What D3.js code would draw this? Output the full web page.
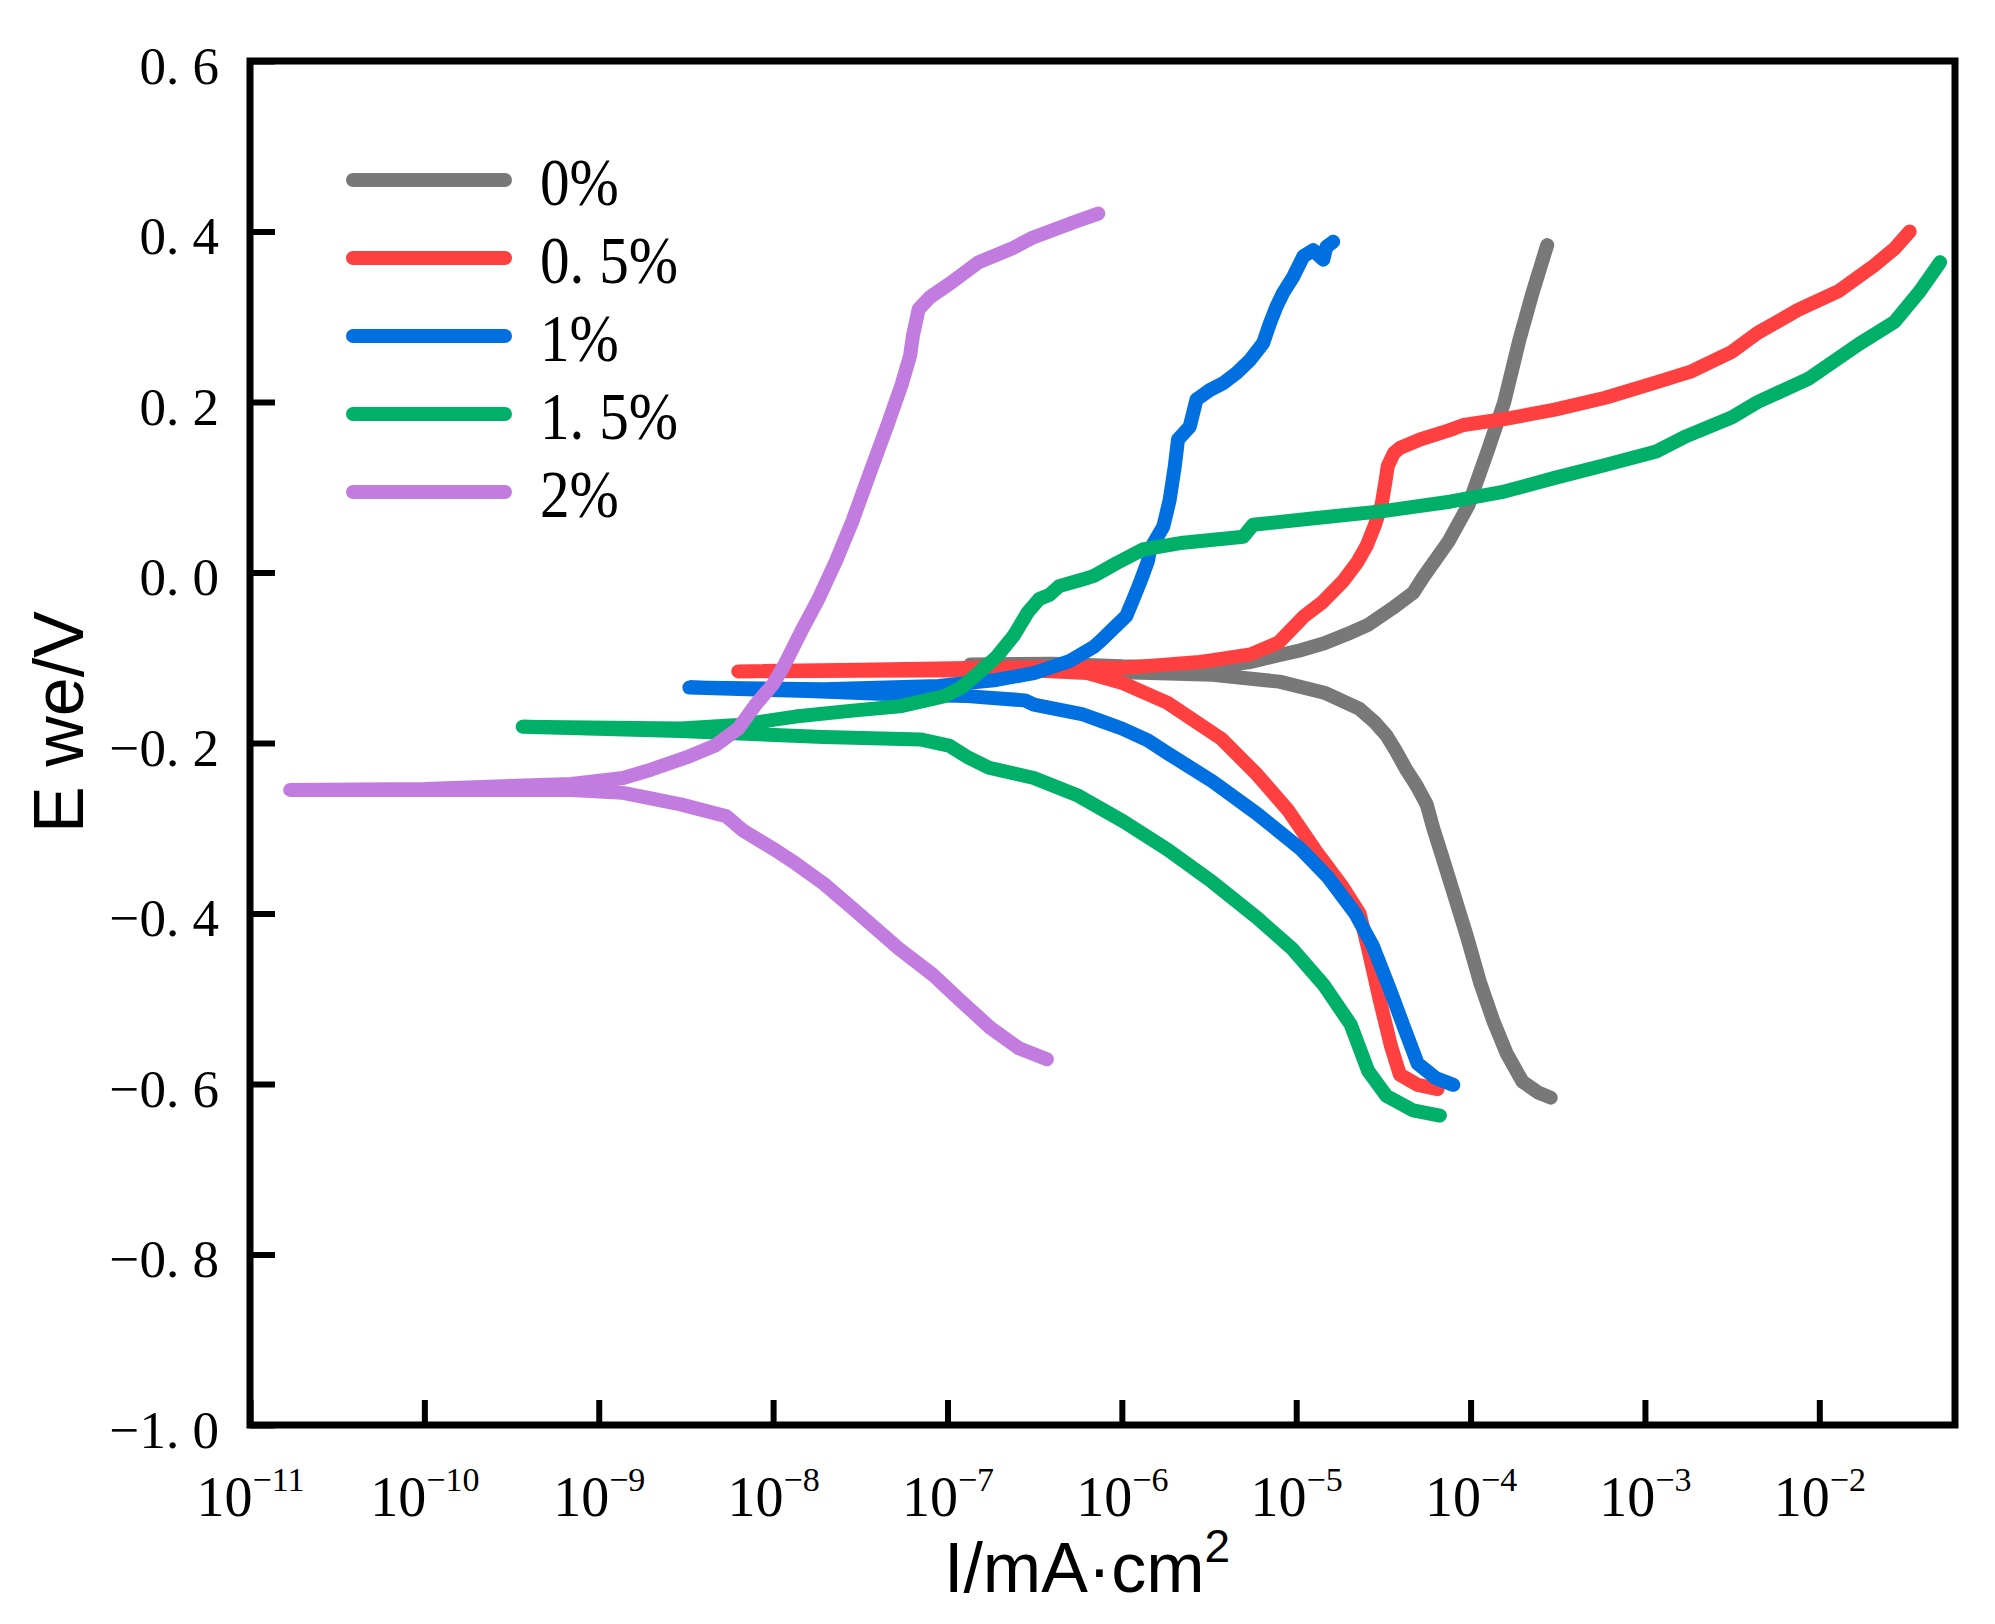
<!DOCTYPE html>
<html>
<head>
<meta charset="utf-8">
<script src="https://cdn.jsdelivr.net/npm/d3@7"></script>
<style>
  body { margin: 0; background: #fff; }
  svg { display: block; }
</style>
</head>
<body>
<svg id="chart" width="1995" height="1624"></svg>
<script>
// series names, in legend order
const seriesNames = ["0%", "0.5%", "1%", "1.5%", "2%"];
const seriesColors = ["#787878", "#FF4040", "#0070E0", "#00B068", "#C27CE0"];

// [I (mA/cm2), E (V)] from cathodic end -> Ecorr -> anodic end
const gray0 = [
  [2.88e-4, -0.616], [2.44e-4, -0.610], [1.98e-4, -0.597], [1.61e-4, -0.564], [1.35e-4, -0.526],
  [1.13e-4, -0.480], [9.5e-5, -0.426], [7.96e-5, -0.375], [6.87e-5, -0.333], [6.11e-5, -0.300],
  [5.6e-5, -0.272], [4.9e-5, -0.250], [4.3e-5, -0.232], [3.70e-5, -0.208], [3.29e-5, -0.191],
  [2.8e-5, -0.175], [2.31e-5, -0.160], [1.45e-5, -0.141], [8.0e-6, -0.128], [3.31e-6, -0.120],
  [1.02e-6, -0.117], [4.0e-7, -0.113], [1.35e-7, -0.108],
  [4.0e-7, -0.107], [1.0e-6, -0.110], [3.31e-6, -0.111], [5.47e-6, -0.105], [7.94e-6, -0.097],
  [1.07e-5, -0.091], [1.45e-5, -0.083], [2.08e-5, -0.070], [2.6e-5, -0.061], [3.56e-5, -0.042],
  [4.68e-5, -0.024], [5.33e-5, -0.006], [7.45e-5, 0.036], [9.73e-5, 0.079], [1.27e-4, 0.146],
  [1.56e-4, 0.200], [1.90e-4, 0.272], [2.25e-4, 0.326], [2.75e-4, 0.384]
];
const red05 = [
  [6.47e-5, -0.606], [4.97e-5, -0.601], [3.93e-5, -0.589], [3.49e-5, -0.555], [3.01e-5, -0.501],
  [2.59e-5, -0.442], [2.31e-5, -0.400], [1.82e-5, -0.367], [1.28e-5, -0.325], [8.99e-6, -0.279],
  [5.96e-6, -0.237], [3.72e-6, -0.195], [2.61e-6, -0.174], [1.83e-6, -0.153], [1.02e-6, -0.130],
  [6.34e-7, -0.118], [3.16e-7, -0.115], [6.3e-8, -0.115], [6.31e-9, -0.116],
  [3.16e-8, -0.114], [1.3e-7, -0.112], [5.0e-7, -0.111], [1.02e-6, -0.112], [2.8e-6, -0.105],
  [3.31e-6, -0.103], [5.47e-6, -0.096], [7.94e-6, -0.082], [1.1e-5, -0.052], [1.41e-5, -0.035],
  [1.86e-5, -0.010], [2.24e-5, 0.012], [2.53e-5, 0.031], [2.82e-5, 0.055], [3.09e-5, 0.080],
  [3.24e-5, 0.105], [3.35e-5, 0.125], [3.63e-5, 0.140], [3.93e-5, 0.146], [5.13e-5, 0.156],
  [7.59e-5, 0.167], [9.1e-5, 0.173], [1.56e-4, 0.180], [3.04e-4, 0.191], [5.93e-4, 0.205],
  [1.16e-3, 0.223], [1.85e-3, 0.236], [3.16e-3, 0.259], [4.43e-3, 0.281], [7.55e-3, 0.308],
  [1.29e-2, 0.330], [2.06e-2, 0.360], [2.7e-2, 0.380], [3.3e-2, 0.400]
];
const blue1 = [
  [7.96e-5, -0.601], [6.31e-5, -0.593], [4.97e-5, -0.576], [4.16e-5, -0.534], [3.49e-5, -0.492],
  [2.75e-5, -0.438], [2.18e-5, -0.400], [1.53e-5, -0.358], [1.07e-5, -0.325], [5.96e-6, -0.283],
  [3.31e-6, -0.245], [1.83e-6, -0.212], [1.41e-6, -0.197], [1.0e-6, -0.183], [7.57e-7, -0.174],
  [5.89e-7, -0.166], [3.13e-7, -0.155], [2.78e-7, -0.150], [1.3e-7, -0.145], [5.33e-8, -0.143],
  [1.58e-8, -0.139], [3.31e-9, -0.135],
  [1.95e-8, -0.137], [8.9e-8, -0.133], [1.91e-7, -0.126], [3.13e-7, -0.118], [5.0e-7, -0.104],
  [6.92e-7, -0.087], [7.57e-7, -0.080], [9.33e-7, -0.062], [1.06e-6, -0.051], [1.17e-6, -0.030],
  [1.27e-6, -0.012], [1.41e-6, 0.013], [1.45e-6, 0.027], [1.73e-6, 0.054], [1.88e-6, 0.085],
  [2.01e-6, 0.124], [2.10e-6, 0.156], [2.45e-6, 0.171], [2.68e-6, 0.203], [3.2e-6, 0.214],
  [3.81e-6, 0.222], [4.55e-6, 0.234], [5.42e-6, 0.249], [6.46e-6, 0.269], [7.06e-6, 0.292],
  [7.71e-6, 0.312], [8.41e-6, 0.328], [9.62e-6, 0.347], [1.1e-5, 0.371], [1.25e-5, 0.378],
  [1.43e-5, 0.367], [1.49e-5, 0.382], [1.63e-5, 0.388]
];
const green15 = [
  [6.67e-5, -0.637], [4.68e-5, -0.631], [3.29e-5, -0.614], [2.59e-5, -0.585], [2.05e-5, -0.530],
  [1.44e-5, -0.484], [9.55e-6, -0.442], [5.96e-6, -0.405], [3.3e-6, -0.363], [1.83e-6, -0.325],
  [1.02e-6, -0.292], [5.64e-7, -0.262], [3.13e-7, -0.241], [1.73e-7, -0.229], [1.29e-7, -0.216],
  [1.02e-7, -0.203], [7.08e-8, -0.196], [1.95e-8, -0.193], [2.95e-9, -0.186], [3.66e-10, -0.181],
  [2.95e-9, -0.183], [6.31e-9, -0.179], [1.34e-8, -0.169], [2.86e-8, -0.162], [5.33e-8, -0.157],
  [9.62e-8, -0.145], [1.2e-7, -0.135], [1.37e-7, -0.125], [1.91e-7, -0.099], [2.4e-7, -0.074],
  [2.88e-7, -0.047], [3.36e-7, -0.031], [3.86e-7, -0.026], [4.37e-7, -0.016], [6.0e-7, -0.008],
  [6.92e-7, -0.004], [9.33e-7, 0.011], [1.32e-6, 0.027], [2.25e-6, 0.035], [4.97e-6, 0.042],
  [5.66e-6, 0.056], [1.31e-5, 0.064], [3.15e-5, 0.072], [7.6e-5, 0.083], [1.56e-4, 0.095],
  [3.04e-4, 0.111], [5.93e-4, 0.126], [1.16e-3, 0.142], [1.73e-3, 0.160], [3.16e-3, 0.182],
  [4.43e-3, 0.200], [8.63e-3, 0.227], [1.69e-2, 0.268], [2.7e-2, 0.294], [3.77e-2, 0.330],
  [4.93e-2, 0.364]
];
const purple2 = [
  [3.72e-7, -0.571], [2.57e-7, -0.558], [1.76e-7, -0.534], [1.2e-7, -0.503], [8.26e-8, -0.472],
  [5.25e-8, -0.441], [3.09e-8, -0.400], [1.95e-8, -0.365], [1.34e-8, -0.341], [1.0e-8, -0.324],
  [6.76e-9, -0.303], [5.4e-9, -0.286], [2.95e-9, -0.272], [1.38e-9, -0.2585], [6.97e-10, -0.255],
  [1.0e-10, -0.255], [1.7e-11, -0.255],
  [1.0e-10, -0.254], [6.97e-10, -0.248], [1.38e-9, -0.241], [2.01e-9, -0.231], [3.18e-9, -0.217],
  [4.65e-9, -0.203], [6.31e-9, -0.183], [7.94e-9, -0.155], [1.0e-8, -0.131], [1.15e-8, -0.110],
  [1.45e-8, -0.069], [1.82e-8, -0.031], [2.29e-8, 0.013], [2.86e-8, 0.061], [3.59e-8, 0.117],
  [4.51e-8, 0.172], [5.45e-8, 0.220], [6.1e-8, 0.254], [6.34e-8, 0.278], [6.84e-8, 0.309],
  [7.94e-8, 0.323], [1.05e-7, 0.340], [1.51e-7, 0.364], [2.4e-7, 0.381], [3.02e-7, 0.392],
  [4.07e-7, 0.402], [5.5e-7, 0.412], [7.33e-7, 0.421]
];
const seriesData = [gray0, red05, blue1, green15, purple2];

// ticks
const xTickExps = [-11, -10, -9, -8, -7, -6, -5, -4, -3, -2];
const yTicks = [0.6, 0.4, 0.2, 0.0, -0.2, -0.4, -0.6, -0.8, -1.0];

const svg = d3.select("#chart");
const plot = { left: 250, right: 1955, top: 61, bottom: 1425 };

const x = d3.scaleLog().domain([1e-11, 0.06]).range([plot.left, plot.right]);
const y = d3.scaleLinear().domain([-1.0, 0.6]).range([plot.bottom, plot.top]);

const serif = "'Liberation Serif', 'Times New Roman', serif";
const sans = "'Liberation Sans', Arial, sans-serif";

// curves
const line = d3.line().x(d => x(d[0])).y(d => y(d[1])).curve(d3.curveLinear);
svg.append("g").selectAll("path")
  .data(seriesData)
  .join("path")
  .attr("d", line)
  .attr("fill", "none")
  .attr("stroke", (d, i) => seriesColors[i])
  .attr("stroke-width", 14)
  .attr("stroke-linecap", "round")
  .attr("stroke-linejoin", "round");

// y axis
const fmtY = v => d3.format(".1f")(v).replace("-", "\u2212").replace(".", ". ");
const yAxis = d3.axisLeft(y).tickValues(yTicks).tickSizeInner(-25).tickSizeOuter(0)
  .tickPadding(31).tickFormat(fmtY);
const gy = svg.append("g").attr("transform", `translate(${plot.left},0)`).call(yAxis);
gy.select(".domain").remove();
gy.selectAll(".tick line").attr("stroke", "#000").attr("stroke-width", 6);
gy.selectAll(".tick text")
  .attr("font-family", serif).attr("font-size", 53).attr("fill", "#000")
  .attr("dy", "0.42em");

// x axis
const xAxis = d3.axisBottom(x).tickValues(xTickExps.map(e => Math.pow(10, e)))
  .tickSizeInner(-25).tickSizeOuter(0).tickFormat("");
const gx = svg.append("g").attr("transform", `translate(0,${plot.bottom})`).call(xAxis);
gx.select(".domain").remove();
gx.selectAll(".tick line").attr("stroke", "#000").attr("stroke-width", 6);
gx.selectAll(".tick").each(function (d, i) {
  const t = d3.select(this).append("text")
    .attr("y", 91)
    .attr("text-anchor", "middle")
    .attr("font-family", serif)
    .attr("font-size", 56)
    .attr("fill", "#000");
  t.append("tspan").text("10");
  t.append("tspan").attr("dy", -25).attr("font-size", 34).text("\u2212" + (-xTickExps[i]));
});

// frame
svg.append("rect")
  .attr("x", plot.left).attr("y", plot.top)
  .attr("width", plot.right - plot.left).attr("height", plot.bottom - plot.top)
  .attr("fill", "none").attr("stroke", "#000").attr("stroke-width", 7);

// axis titles
const xt = svg.append("text")
  .attr("x", 1087).attr("y", 1592)
  .attr("text-anchor", "middle")
  .attr("font-family", sans).attr("font-size", 70).attr("fill", "#000");
xt.append("tspan").text("I/mA\u00b7cm");
xt.append("tspan").attr("dy", -30).attr("font-size", 46).text("2");

svg.append("text")
  .attr("transform", "translate(83,722) rotate(-90)")
  .attr("text-anchor", "middle")
  .attr("font-family", sans).attr("font-size", 70).attr("fill", "#000")
  .text("E we/V");

// legend
const legend = svg.append("g").attr("transform", "translate(353,180)");
const items = legend.selectAll("g").data(seriesNames).join("g")
  .attr("transform", (d, i) => `translate(0,${i * 78})`);
items.append("line")
  .attr("x1", 0).attr("x2", 152).attr("y1", 0).attr("y2", 0)
  .attr("stroke", (d, i) => seriesColors[i])
  .attr("stroke-width", 14).attr("stroke-linecap", "round");
items.append("text")
  .attr("transform", "translate(187,25) scale(0.87,1)")
  .attr("font-family", serif).attr("font-size", 68).attr("fill", "#000")
  .text(d => d.replace(".", ". "));
</script>
</body>
</html>
